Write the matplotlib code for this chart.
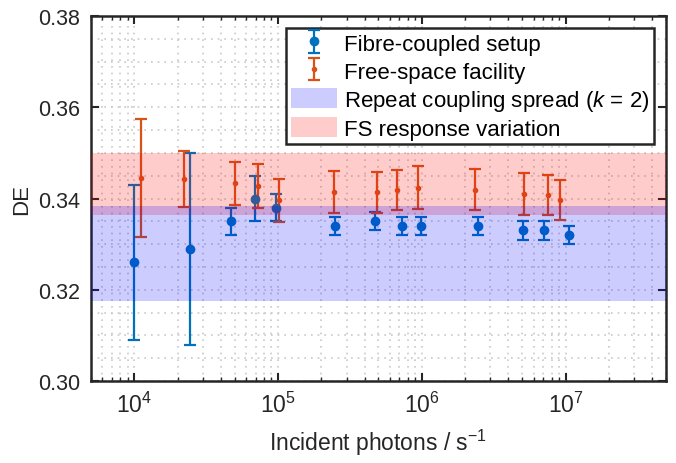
import numpy as np
import matplotlib
matplotlib.use("Agg")
import matplotlib.pyplot as plt
from matplotlib.ticker import LogLocator, MultipleLocator, NullFormatter
from matplotlib.legend_handler import HandlerErrorbar

plt.rcParams['font.family'] = ['Liberation Sans', 'DejaVu Sans']
plt.rcParams['mathtext.fontset'] = 'custom'
plt.rcParams['mathtext.rm'] = 'Liberation Sans'
plt.rcParams['mathtext.it'] = 'Liberation Sans:italic'

# fibre-coupled setup
fc_x = [1.0e4, 2.43e4, 4.7e4, 6.95e4, 9.7e4, 2.48e5, 4.75e5, 7.25e5, 9.8e5, 2.47e6, 5.08e6, 7.13e6, 1.06e7]
fc_de = [0.326, 0.329, 0.335, 0.340, 0.338, 0.334, 0.335, 0.334, 0.334, 0.334, 0.333, 0.333, 0.332]
fc_err = [0.017, 0.021, 0.003, 0.005, 0.003, 0.002, 0.002, 0.002, 0.002, 0.002, 0.002, 0.002, 0.002]

# free-space facility
fs_x = [1.12e4, 2.21e4, 5.0e4, 7.2e4, 1.01e5, 2.47e5, 4.89e5, 6.76e5, 9.35e5, 2.36e6, 5.14e6, 7.52e6, 9.2e6]
fs_de = [0.3445, 0.3443, 0.3433, 0.3427, 0.3396, 0.3414, 0.3414, 0.3418, 0.3424, 0.3419, 0.3410, 0.3407, 0.3397]
fs_err = [0.0130, 0.0061, 0.0048, 0.0048, 0.0047, 0.0046, 0.0045, 0.0044, 0.0047, 0.0045, 0.0047, 0.0044, 0.0044]

# bands
fc_band = [0.3175, 0.3384]
fs_band = [0.3364, 0.3500]

blue = '#0072BD'
red = '#D95319'


class VerticalErrorbar(HandlerErrorbar):
    # matlab style legend entry: no horizontal line through the marker
    def create_artists(self, *args, **kwargs):
        artists = super().create_artists(*args, **kwargs)
        artists[-2].set_visible(False)
        return artists


fig = plt.figure(figsize=(6.76, 4.64), dpi=100)
ax = fig.add_axes([0.1346, 0.1767, 0.8506, 0.7866])

h1 = ax.errorbar(fc_x, fc_de, yerr=fc_err, fmt='o', color=blue, ms=6, lw=1.6,
                 capsize=4.5, capthick=1.6, zorder=3)
h2 = ax.errorbar(fs_x, fs_de, yerr=fs_err, fmt='.', color=red, ms=6, lw=1.6,
                 capsize=4.5, capthick=1.6, zorder=3)

xl = (5e3, 5e7)
p2 = ax.fill_between(xl, fs_band[0], fs_band[1], color=(1, 0, 0), alpha=0.2, lw=0, zorder=4)
p1 = ax.fill_between(xl, fc_band[0], fc_band[1], color=(0, 0, 1), alpha=0.2, lw=0, zorder=4)

ax.set_xscale('log')
ax.set_xlim(*xl)
ax.set_ylim(0.30, 0.38)
ax.set_yticks([0.30, 0.32, 0.34, 0.36, 0.38])
ax.set_yticklabels(['0.30', '0.32', '0.34', '0.36', '0.38'])
ax.yaxis.set_minor_locator(MultipleLocator(0.005))
ax.xaxis.set_major_locator(LogLocator(base=10, numticks=10))
ax.xaxis.set_minor_locator(LogLocator(base=10, subs=np.arange(2, 10), numticks=20))
ax.xaxis.set_minor_formatter(NullFormatter())

ax.grid(True, which='both', linestyle=(0, (1, 3)), color='#c8c8c8', lw=1.2)
ax.set_axisbelow(True)

ax.tick_params(which='both', direction='in', top=True, right=True, labelsize=15.5,
               color='#262626', labelcolor='#262626', pad=8)
ax.tick_params(axis='x', which='major', labelsize=16.5)
ax.tick_params(which='major', length=6, width=1.5)
ax.tick_params(axis='x', which='minor', length=3, width=1)
ax.tick_params(axis='y', which='minor', length=0)
for s in ax.spines.values():
    s.set_linewidth(1.8)
    s.set_color('#262626')

ax.set_xlabel('Incident photons / s$^{-1}$', fontsize=16.5, color='#262626', labelpad=7)
ax.set_ylabel('DE', fontsize=16, color='#262626')

leg = ax.legend([h1, h2, p1, p2],
                ['Fibre-coupled setup', 'Free-space facility',
                 r'Repeat coupling spread $\mathit{(k}$ = $\mathit{2)}$', 'FS response variation'],
                loc='upper right', fontsize=16, frameon=True, fancybox=False,
                edgecolor='#262626', framealpha=1, borderpad=0.2, labelspacing=0.22,
                handlelength=2.1, handleheight=1.0, handletextpad=0.3, borderaxespad=0.55,
                handler_map={type(h1): VerticalErrorbar()})
leg.get_frame().set_linewidth(1.8)

fig.savefig('out.png', dpi=100)
